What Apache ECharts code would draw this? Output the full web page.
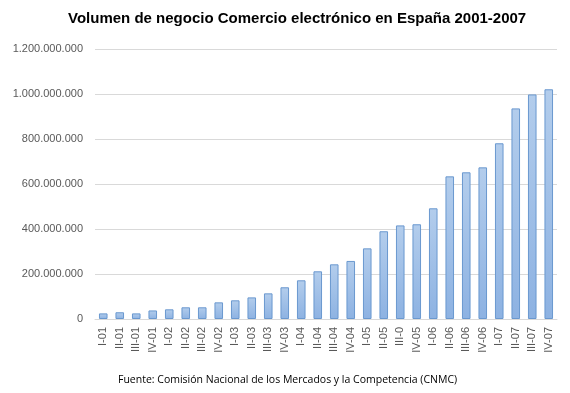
<!DOCTYPE html>
<html>
<head>
<meta charset="utf-8">
<script src="https://cdn.jsdelivr.net/npm/echarts@6/dist/echarts.min.js"></script>
<style>
html,body{margin:0;padding:0;background:#fff;}
#chart{width:570px;height:393px;}
</style>
</head>
<body>
<div id="chart"></div>
<script>
const titleText = 'Volumen de negocio Comercio electrónico en España 2001-2007';
const sourceText = 'Fuente: Comisión Nacional de los Mercados y la Competencia (CNMC)';
const categories = ['I-01','II-01','III-01','IV-01','I-02','II-02','III-02','IV-02','I-03','II-03','III-03','IV-03','I-04','II-04','III-04','IV-04','I-05','II-05','III-0','IV-05','I-06','II-06','III-06','IV-06','I-07','II-07','III-07','IV-07'];
const volumen = [25000000,30000000,25000000,38000000,43000000,52000000,52000000,74000000,83000000,96000000,114000000,141000000,172000000,212000000,243000000,258000000,314000000,390000000,416000000,421000000,492000000,634000000,652000000,674000000,781000000,936000000,998000000,1021000000];
const yTicks = [0,200000000,400000000,600000000,800000000,1000000000,1200000000];

function fmt(v){
  return String(v).replace(/\B(?=(\d{3})+(?!\d))/g,'.');
}

const chart = echarts.init(document.getElementById('chart'));
chart.setOption({
  animation:false,
  backgroundColor:'#ffffff',
  title:{
    text:titleText,
    left:63,
    top:6,
    textStyle:{fontFamily:'Liberation Sans',fontSize:15,fontWeight:'bold',color:'#000000'}
  },
  graphic:[{
    type:'text',
    left:118,
    top:375,
    style:{text:sourceText,font:'10.5px "Open Sans"',fill:'#000000'}
  }],
  grid:{left:95,right:13,top:49,bottom:74,containLabel:false},
  xAxis:{
    type:'category',
    data:categories,
    axisLine:{lineStyle:{color:'#d9d9d9'}},
    axisTick:{show:false},
    axisLabel:{rotate:90,interval:0,color:'#595959',fontFamily:'Liberation Sans',fontSize:11,margin:8}
  },
  yAxis:{
    type:'value',
    min:yTicks[0],
    max:yTicks[yTicks.length-1],
    interval:yTicks[1]-yTicks[0],
    axisLine:{show:false},
    axisTick:{show:false},
    splitLine:{lineStyle:{color:'#d9d9d9'}},
    axisLabel:{color:'#595959',fontFamily:'Liberation Sans',fontSize:11,margin:12,formatter:fmt}
  },
  series:[{
    type:'bar',
    data:volumen,
    barWidth:'52%',
    itemStyle:{
      color:new echarts.graphic.LinearGradient(0,0,0,1,[{offset:0,color:'#b3cdec'},{offset:1,color:'#8db2e2'}]),
      borderColor:'#6a98cf',
      borderWidth:1
    }
  }]
});
</script>
</body>
</html>
